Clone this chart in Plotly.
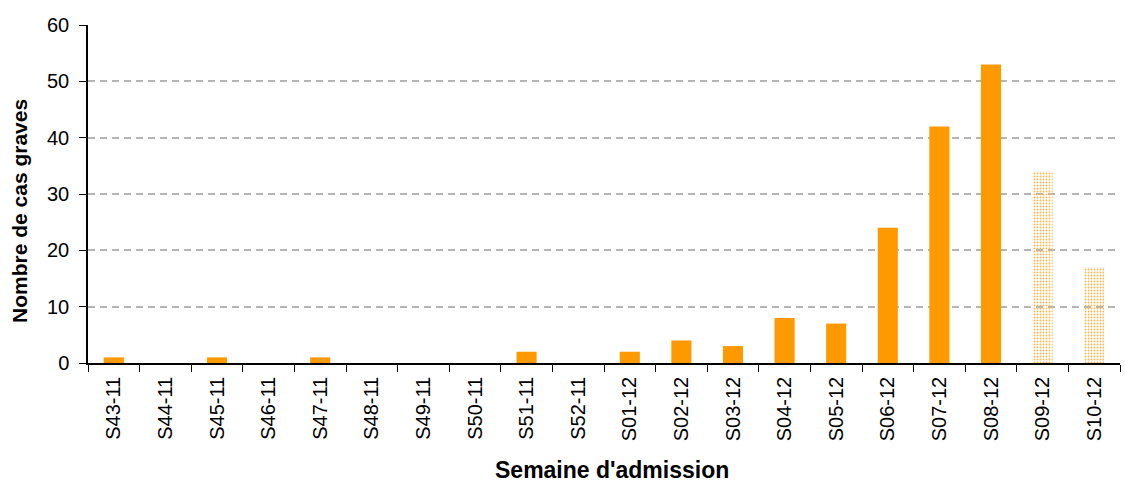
import plotly.graph_objects as go

weeks = ["S43-11","S44-11","S45-11","S46-11","S47-11","S48-11","S49-11","S50-11","S51-11","S52-11",
         "S01-12","S02-12","S03-12","S04-12","S05-12","S06-12","S07-12","S08-12","S09-12","S10-12"]
cases = [1,0,1,0,1,0,0,0,2,0,2,4,3,8,7,24,42,53,34,17]
provisional = [False]*18 + [True, True]

colors = ["#FFB54D" if p else "#FF9900" for p in provisional]
shapes = ["." if p else "" for p in provisional]

fig = go.Figure(go.Bar(
    x=weeks, y=cases,
    marker=dict(color=colors, line=dict(width=0),
                pattern=dict(shape=shapes, fgcolor="#FFE6C4", bgcolor="#FFB247",
                             size=3, solidity=0.3, fillmode="replace")),
    width=0.39,
))

fig.update_layout(
    width=1125, height=482,
    margin=dict(l=88, r=5, t=25, b=119),
    plot_bgcolor="white", paper_bgcolor="white",
    font=dict(family="Liberation Sans, Arial, sans-serif", color="#000000"),
    showlegend=False,
    annotations=[
        dict(text="<b>Nombre de cas graves</b>", textangle=-90, showarrow=False,
             xref="paper", yref="paper", x=(20 - 88) / 1032, y=(363 - 211) / 338,
             xanchor="center", yanchor="middle", font=dict(size=21)),
        dict(text="<b>Semaine d'admission</b>", showarrow=False,
             xref="paper", yref="paper", x=(612 - 88) / 1032, y=(363 - 470) / 338,
             xanchor="center", yanchor="middle", font=dict(size=23)),
    ],
)
fig.update_xaxes(
    type="category", tickson="boundaries", ticks="outside", ticklen=7, tickcolor="#000",
    showline=True, linecolor="#000", linewidth=1.5, tickangle=-90,
    tickfont=dict(size=20), showgrid=False, automargin=False, ticklabelstandoff=4,
)
fig.update_yaxes(
    range=[0, 60], dtick=10, ticks="outside", ticklen=7, tickcolor="#000",
    showline=True, linecolor="#000", linewidth=1.5, automargin=False, ticklabelstandoff=6,
    tickfont=dict(size=20), showgrid=True, gridcolor="#B5B5B5", griddash="7px,5px", gridwidth=1.5,
    zeroline=False,
)
fig.write_html("out.html", config={"displayModeBar": False},
               post_script="document.body.style.margin='0';document.body.style.padding='0';")
